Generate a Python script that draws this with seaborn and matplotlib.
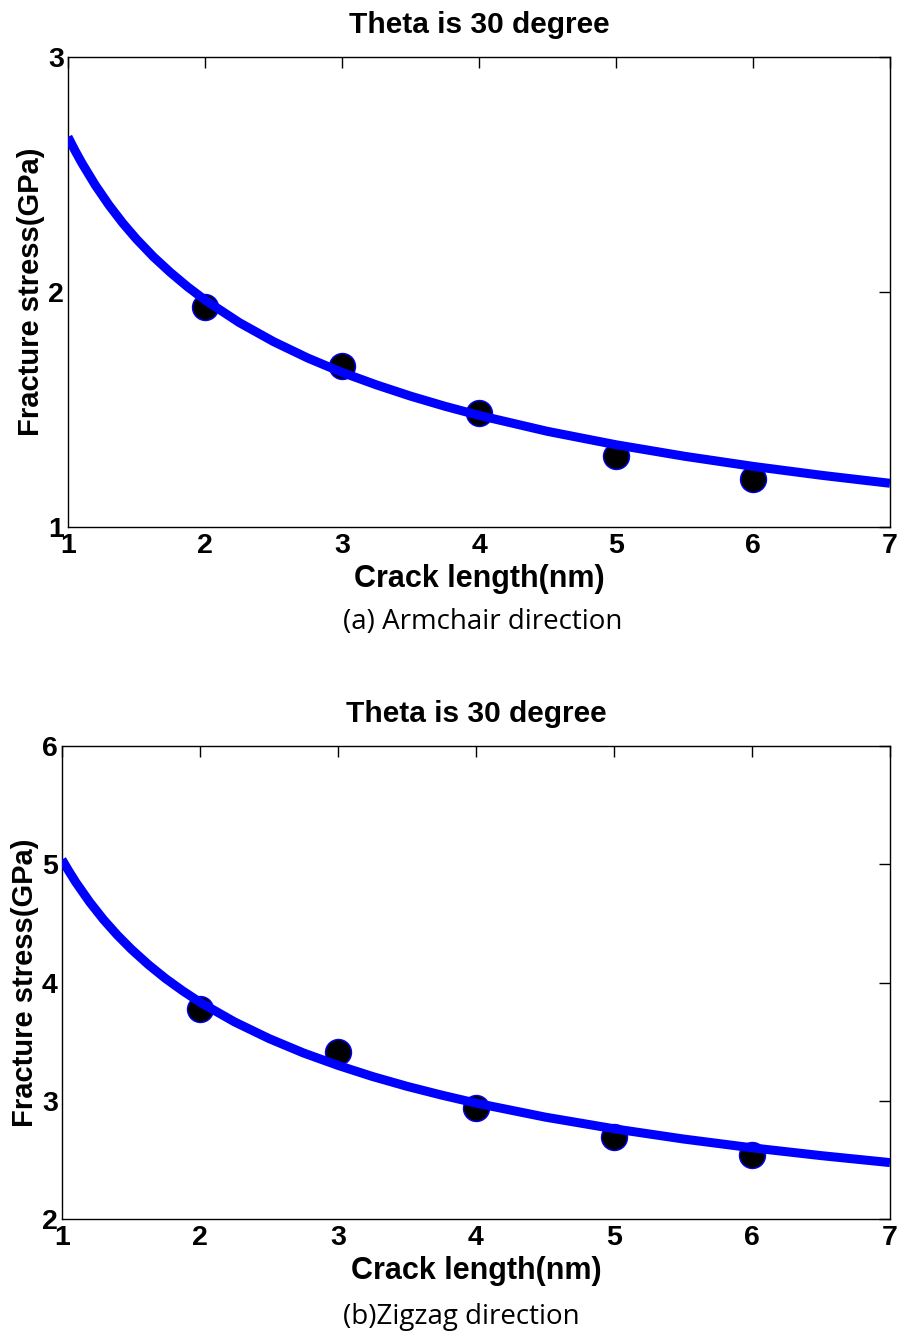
import matplotlib
matplotlib.use("Agg")
import matplotlib.pyplot as plt
import seaborn as sns
import pandas as pd

# ---- data ----
crack_len = [2, 3, 4, 5, 6]
armchair_stress = [1.935, 1.687, 1.483, 1.303, 1.205]
zigzag_stress = [3.78, 3.41, 2.94, 2.69, 2.54]

# fitted curves, values
fit_x = [1, 1.05, 1.1, 1.2, 1.3, 1.4, 1.5, 1.625, 1.75, 1.875, 2, 2.25, 2.5,
         2.75, 3, 3.25, 3.5, 3.75, 4, 4.5, 5, 5.5, 6, 6.5, 7]
armchair_fit = [2.660, 2.603, 2.550, 2.454, 2.369, 2.293, 2.225, 2.149, 2.082,
                2.021, 1.966, 1.870, 1.789, 1.719, 1.658, 1.605, 1.557, 1.514,
                1.475, 1.407, 1.350, 1.301, 1.258, 1.220, 1.186]
zigzag_fit = [5.040, 4.941, 4.848, 4.681, 4.533, 4.402, 4.284, 4.152, 4.034,
              3.929, 3.833, 3.667, 3.526, 3.404, 3.299, 3.205, 3.122, 3.048,
              2.980, 2.862, 2.763, 2.677, 2.602, 2.536, 2.477]

x_ticks = [1, 2, 3, 4, 5, 6, 7]
y_ticks_a = [1, 2, 3]
y_ticks_b = [2, 3, 4, 5, 6]

title_text = "Theta is 30 degree"
xlabel_text = "Crack length(nm)"
ylabel_text = "Fracture stress(GPa)"
caption_a = "(a) Armchair direction"
caption_b = "(b)Zigzag direction"

sns.set_style("white")
plt.rcParams['font.family'] = ['Liberation Sans', 'DejaVu Sans']
plt.rcParams['text.color'] = 'black'
plt.rcParams['axes.labelcolor'] = 'black'

W, H = 899, 1337
fig = plt.figure(figsize=(W / 100, H / 100), dpi=100)

def px_axes(left, right, top, bottom):
    return fig.add_axes([left / W, 1 - bottom / H, (right - left) / W, (bottom - top) / H])

ax1 = px_axes(68, 890, 57, 527)
ax2 = px_axes(62, 890, 746, 1219)

panels = [
    (ax1, armchair_stress, armchair_fit, y_ticks_a, caption_a, 622),
    (ax2, zigzag_stress, zigzag_fit, y_ticks_b, caption_b, 1317),
]

for ax, pts, fit, yt, cap, cap_y in panels:
    df_pts = pd.DataFrame({"x": crack_len, "y": pts})
    df_fit = pd.DataFrame({"x": fit_x, "y": fit})
    sns.scatterplot(data=df_pts, x="x", y="y", ax=ax, s=25 ** 2 * 0.56,
                    color="black", edgecolor="#0000ff", linewidth=1, zorder=2)
    sns.lineplot(data=df_fit, x="x", y="y", ax=ax, color="#0000ff",
                 linewidth=6.5, zorder=3, solid_capstyle="butt",
                 solid_joinstyle="round")
    ax.set_xlim(1, 7)
    ax.set_ylim(yt[0], yt[-1])
    ax.set_xticks(x_ticks)
    ax.set_yticks(yt)
    ax.set_xticklabels([str(v) for v in x_ticks])
    ax.set_yticklabels([str(v) for v in yt])
    ax.tick_params(direction="in", length=8, width=1, top=True, right=True,
                   labelsize=20.5, colors="black")
    ax.tick_params(axis="x", pad=4)
    ax.tick_params(axis="y", pad=3)
    for lab in ax.get_xticklabels() + ax.get_yticklabels():
        lab.set_fontweight("bold")
    for sp in ax.spines.values():
        sp.set_visible(True)
        sp.set_color("black")
        sp.set_linewidth(1)
    ax.set_title(title_text, fontsize=21.5, fontweight="bold", pad=17, color="black")
    ax.set_xlabel(xlabel_text, fontsize=22, fontweight="bold", labelpad=4, color="black")
    ax.set_ylabel(ylabel_text, fontsize=21, fontweight="bold", labelpad=2, color="black")
    fig.text(343 / W, 1 - cap_y / H, cap, ha="left", va="center",
             fontsize=20, color="black", family=["Open Sans", "DejaVu Sans"])

fig.savefig("out.png", dpi=100, facecolor="white")
